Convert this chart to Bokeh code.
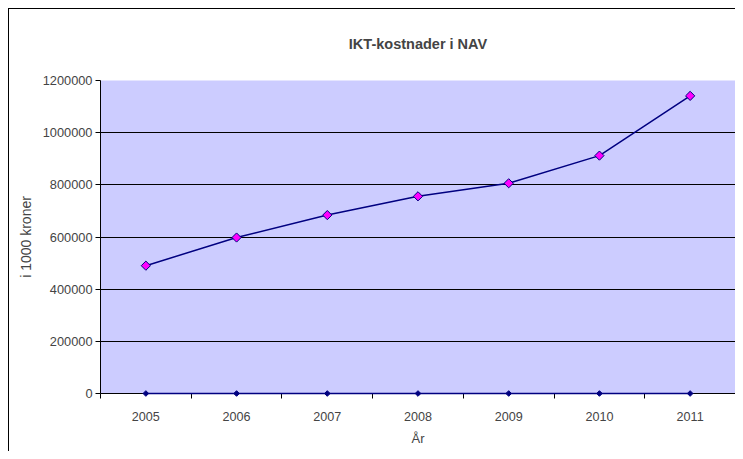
import math
from bokeh.plotting import figure
from bokeh.models import Range1d, FixedTicker, NumeralTickFormatter
from bokeh.embed import file_html
from bokeh.resources import INLINE

years = [2005, 2006, 2007, 2008, 2009, 2010, 2011]
costs = [490000, 598000, 684000, 756000, 806000, 912000, 1141000]
zeros = [0, 0, 0, 0, 0, 0, 0]
y_ticks = [0, 200000, 400000, 600000, 800000, 1000000, 1200000]

title_text = "IKT-kostnader i NAV"
x_label = "År"
y_label = "i 1000 kroner"

FONT = "Liberation Sans"

p = figure(width=735, height=451, output_backend="svg", toolbar_location=None,
           x_range=Range1d(years[0] - 0.5, years[-1] + 0.5),
           y_range=Range1d(y_ticks[0], y_ticks[-1]),
           min_border_left=100, min_border_right=0, min_border_top=80, min_border_bottom=58,
           background_fill_color="#CCCCFF", border_fill_color="white", border_fill_alpha=0,
           outline_line_color=None)
p.styles = {
    "background": "linear-gradient(#000,#000) 8px 8px / 1px 100% no-repeat, "
                  "linear-gradient(#000,#000) 8px 8px / 100% 1px no-repeat, #ffffff",
}

p.title.text = title_text
p.title.align = "center"
p.title.offset = -37
p.title.text_font = FONT
p.title.text_font_size = "14.5px"
p.title.text_font_style = "bold"
p.title.standoff = 57

# grid
p.xgrid.grid_line_color = None
p.ygrid.ticker = FixedTicker(ticks=y_ticks)
p.ygrid.grid_line_color = "black"
p.ygrid.grid_line_width = 1

# y axis
p.yaxis.ticker = FixedTicker(ticks=y_ticks)
p.yaxis.formatter = NumeralTickFormatter(format="0")
p.yaxis.axis_label = y_label
p.yaxis.axis_label_text_font = FONT
p.yaxis.axis_label_text_font_size = "14px"
p.yaxis.axis_label_text_font_style = "normal"
p.yaxis.major_label_text_font = FONT
p.yaxis.major_label_text_font_size = "12.8px"
p.yaxis.major_tick_out = 5
p.yaxis.major_tick_in = 0
p.yaxis.minor_tick_line_color = None
p.yaxis.major_label_standoff = 3
p.yaxis.axis_label_standoff = 6
p.yaxis.axis_line_color = "black"

# x axis: labels at categories, tick marks between categories
bounds = [y - 0.5 for y in years] + [years[-1] + 0.5]
p.xaxis.ticker = FixedTicker(ticks=years, minor_ticks=bounds)
p.xaxis.major_tick_line_color = None
p.xaxis.major_tick_out = 5
p.xaxis.major_tick_in = 0
p.xaxis.minor_tick_out = 5
p.xaxis.minor_tick_in = 0
p.xaxis.minor_tick_line_color = "black"
p.xaxis.major_label_text_font = FONT
p.xaxis.major_label_text_font_size = "12.6px"
p.xaxis.major_label_standoff = 13
p.xaxis.axis_label = x_label
p.xaxis.axis_label_text_font = FONT
p.xaxis.axis_label_text_font_size = "13px"
p.xaxis.axis_label_text_font_style = "normal"
p.xaxis.axis_label_standoff = 7
p.xaxis.axis_line_color = "black"

# zero series
r0 = p.line(years, zeros, line_color="#000080", line_width=1.5)
m0 = p.scatter(years, zeros, marker="square", angle=math.pi / 4, size=4,
               fill_color="#000080", line_color="#000080")
# cost series
r1 = p.line(years, costs, line_color="#000080", line_width=1.5)
m1 = p.scatter(years, costs, marker="square", angle=math.pi / 4, size=6.5,
               fill_color="#FF00FF", line_color="#000080", line_width=1)
for r in (r0, m0):
    r.level = "overlay"

open("out.html", "w").write(file_html(p, INLINE))
